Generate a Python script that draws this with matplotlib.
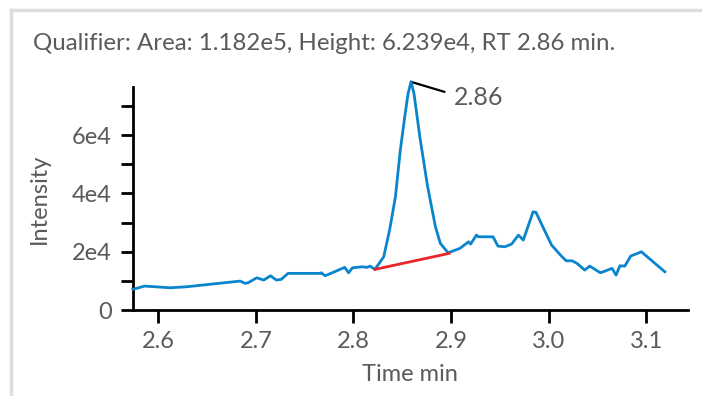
import matplotlib
matplotlib.use("Agg")
import matplotlib.pyplot as plt
from matplotlib.lines import Line2D
from matplotlib.ticker import MultipleLocator, FuncFormatter

plt.rcParams['font.family'] = ['Lato', 'DejaVu Sans']

# chromatogram trace (time min, intensity)
time = [2.574, 2.586, 2.612, 2.629, 2.684, 2.689, 2.692, 2.701, 2.708, 2.715,
        2.721, 2.726, 2.733, 2.766, 2.767, 2.771, 2.791, 2.795, 2.799, 2.806,
        2.809, 2.814, 2.817, 2.822, 2.831, 2.837, 2.843, 2.848, 2.853, 2.856,
        2.859, 2.862, 2.868, 2.876, 2.884, 2.889, 2.897, 2.909, 2.918, 2.920,
        2.926, 2.928, 2.943, 2.948, 2.955, 2.962, 2.969, 2.974, 2.984, 2.987,
        2.994, 3.003, 3.013, 3.018, 3.024, 3.029, 3.037, 3.042, 3.053, 3.065,
        3.069, 3.073, 3.078, 3.084, 3.095, 3.119]
intensity = [7100, 8232, 7649, 7992, 9947, 9158, 9364, 11079, 10290, 11765,
             10290, 10530, 12588, 12588, 12794, 11765, 14646, 12794, 14509, 14749,
             14852, 14646, 15092, 13960, 18282, 27440, 38862, 54880, 67468, 74328,
             78307, 74328, 59442, 42292, 28572, 22878, 19654, 21163, 23427, 22638,
             25725, 25142, 25142, 21952, 21712, 22638, 25725, 24010, 33717, 33511,
             28572, 22295, 18522, 16910, 16910, 16018, 13720, 15092, 12794, 14303,
             12005, 15195, 15092, 18522, 19997, 13137]

# integration baseline
base_t = [2.822, 2.898]
base_i = [13960, 19448]

peak_rt = 2.859
peak_i = 78307
title = "Qualifier: Area: 1.182e5, Height: 6.239e4, RT 2.86 min."

grey = "#5a5a5a"
fig = plt.figure(figsize=(7.02, 3.96), dpi=100)
ax = fig.add_axes([0.189, 0.217, 0.791, 0.563])

ax.plot(time, intensity, color="#0a84cc", lw=2, clip_on=False, zorder=3,
        solid_joinstyle="round")
ax.plot(base_t, base_i, color="#e8262b", lw=2, zorder=4)

# peak label
ax.plot([peak_rt, 2.893], [peak_i, 74900], color="black", lw=1.6, clip_on=False)
ax.text(2.903, 73100, "2.86", fontsize=18, color=grey, va="center", ha="left")

ax.set_xlim(2.5738, 3.1427)
ax.set_ylim(0, 76500)
ax.xaxis.set_major_locator(MultipleLocator(0.1))
ax.xaxis.set_major_formatter(FuncFormatter(lambda v, p: f"{v:.1f}"))
ax.yaxis.set_major_locator(MultipleLocator(20000))
ax.yaxis.set_minor_locator(MultipleLocator(10000))
ax.yaxis.set_major_formatter(FuncFormatter(lambda v, p: "0" if v == 0 else f"{int(v/10000)}e4"))

for s in ["top", "right"]:
    ax.spines[s].set_visible(False)
for s in ["left", "bottom"]:
    ax.spines[s].set_linewidth(2)
ax.tick_params(axis="both", which="both", width=2, length=9, colors="black",
               labelcolor=grey, labelsize=17)
ax.tick_params(axis="x", pad=6)
ax.tick_params(axis="y", pad=6)

ax.set_xlabel("Time min", fontsize=17, color=grey, labelpad=9)
ax.set_ylabel("Intensity", fontsize=17, color=grey, labelpad=16)

fig.text(33 / 702, 1 - 44 / 396, title, fontsize=17.3, color=grey, va="center", ha="left")

# panel border
fig.add_artist(Line2D([11 / 702, 1], [1 - 10 / 396, 1 - 10 / 396], color="#dddddd", lw=2.5))
fig.add_artist(Line2D([11 / 702, 11 / 702], [0, 1 - 10 / 396], color="#dddddd", lw=2.5))

fig.savefig("out.png", dpi=100)
